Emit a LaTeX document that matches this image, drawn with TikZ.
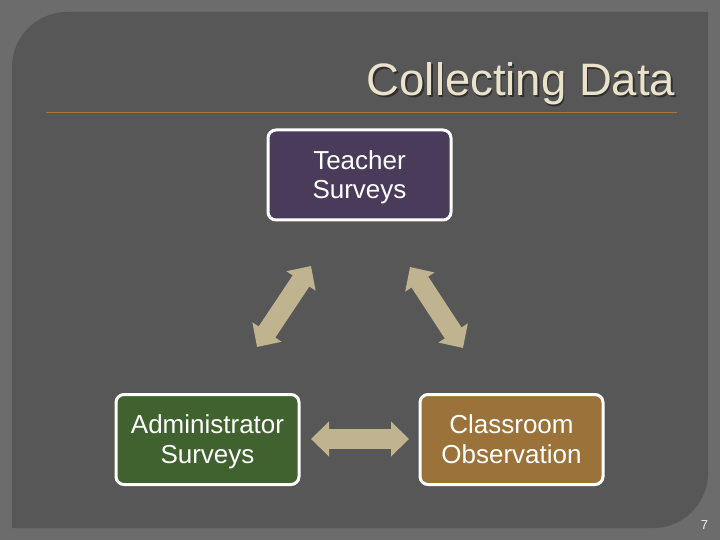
\documentclass[tikz,border=0pt]{standalone}
\usepackage{fontspec}
\setmainfont{Liberation Sans}
\usetikzlibrary{arrows.meta}
\definecolor{outerbg}{HTML}{6C6C6C}
\definecolor{panel}{HTML}{575757}
\definecolor{titlecol}{HTML}{EAE2CB}
\definecolor{rulecol}{HTML}{A8773C}
\definecolor{purplebox}{HTML}{4A3B5B}
\definecolor{greenbox}{HTML}{3F622F}
\definecolor{brownbox}{HTML}{9B733A}
\definecolor{arrowcol}{HTML}{BFB390}
\tikzset{
  box/.style={draw=white, line width=3pt, rounded corners=8pt, minimum width=183pt, minimum height=90pt, inner sep=0pt},
  boxtext/.style={text=white, align=center, font=\fontsize{26}{29.5}\selectfont, inner sep=0pt},
  blockarrow/.style={draw=arrowcol, line width=20pt,
    arrows={Triangle[width=34pt,length=18pt,fill=arrowcol]-Triangle[width=34pt,length=18pt,fill=arrowcol]}}
}
\begin{document}
\begin{tikzpicture}[x=1pt,y=-1pt]
\useasboundingbox (0,0) rectangle (720,540);
\fill[outerbg] (0,0) rectangle (720,540);
\fill[panel] (12,528) -- (12,67) .. controls (12,36.6) and (36.6,12) .. (67,12)
  -- (708,12) -- (708,473) .. controls (708,503.4) and (683.4,528) .. (653,528) -- cycle;
% title
\node[anchor=base east, text=black, opacity=0.45, font=\fontsize{45.5}{50}\selectfont, inner sep=0pt] at (677,97.5) {Collecting Data};
\node[anchor=base east, text=titlecol, font=\fontsize{45.5}{50}\selectfont, inner sep=0pt] (title) at (675.5,96) {Collecting Data};
\draw[rulecol, line width=1pt] (46,112.5) -- (677,112.5);
% boxes
\node[box, fill=purplebox] (teacher) at (359.5,175) {};
\node[box, fill=greenbox] (admin) at (207.5,439.5) {};
\node[box, fill=brownbox] (class) at (511.5,439.5) {};
\node[boxtext] (teachertxt) at ([yshift=-3pt]teacher.center) {\strut Teacher\\\strut Surveys};
\node[boxtext] (admintxt) at ([yshift=-3pt]admin.center) {\strut Administrator\\\strut Surveys};
\node[boxtext] (classtxt) at ([yshift=-3pt]class.center) {\strut Classroom\\\strut Observation};
% arrow ends
\coordinate (l1) at (311,266);
\coordinate (l2) at (257,347);
\coordinate (r1) at (410,267);
\coordinate (r2) at (463,348);
\coordinate (h1) at (311,439);
\coordinate (h2) at (409,439);
\draw[blockarrow] (l2) -- (l1);
\draw[blockarrow] (r1) -- (r2);
\draw[blockarrow] (h1) -- (h2);
% page number
\node[text=white!85!gray, font=\fontsize{13}{15}\selectfont, anchor=base] (pg) at (704.5,529) {7};
\end{tikzpicture}
\end{document}
